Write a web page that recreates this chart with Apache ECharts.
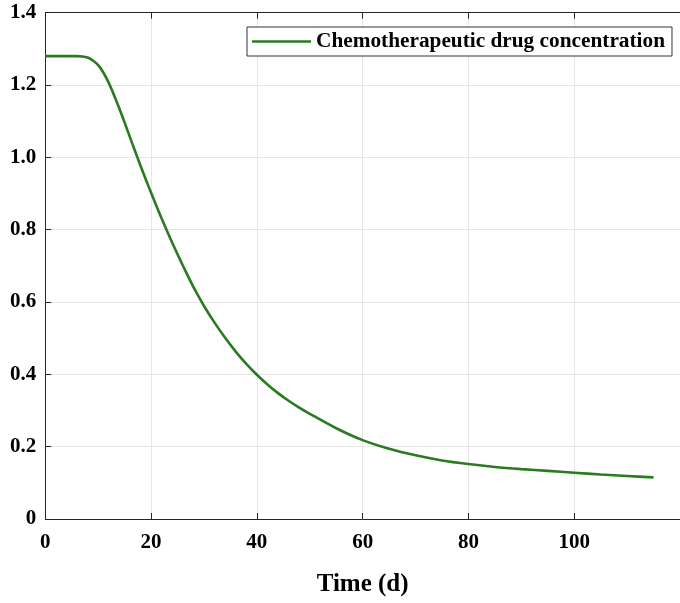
<!DOCTYPE html>
<html>
<head>
<meta charset="utf-8">
<script src="https://cdn.jsdelivr.net/npm/echarts@6/dist/echarts.min.js"></script>
<style>
  html, body { margin: 0; padding: 0; background: #ffffff; }
  #chart { width: 680px; height: 603px; }
</style>
</head>
<body>
<div id="chart"></div>
<script>
// Time axis (days) and drug concentration sampled along the curve
const days = [0, 2, 4, 5, 6, 7, 8, 9, 10, 11, 12, 13, 14, 15, 16, 17, 18, 19, 20,
  21, 22, 23, 24, 25, 26, 27, 28, 29, 30, 32, 34, 36, 38, 40, 42, 44, 46, 48, 50,
  55, 60, 65, 70, 75, 80, 85, 90, 95, 100, 105, 110, 115];
const concentration = [1.280, 1.280, 1.280, 1.280, 1.280, 1.279, 1.276, 1.268, 1.255,
  1.234, 1.206, 1.172, 1.135, 1.096, 1.056, 1.016, 0.977, 0.939, 0.902,
  0.866, 0.831, 0.797, 0.764, 0.732, 0.701, 0.671, 0.642, 0.615, 0.589,
  0.543, 0.501, 0.463, 0.429, 0.399, 0.372, 0.348, 0.327, 0.308, 0.291,
  0.251, 0.218, 0.194, 0.176, 0.162, 0.152, 0.144, 0.138, 0.133, 0.128,
  0.123, 0.119, 0.115];

const seriesName = 'Chemotherapeutic drug concentration';
const xLabel = 'Time (d)';
const xTicks = { min: 0, max: 120, interval: 20 };
const yTicks = { min: 0, max: 1.4, interval: 0.2 };

const font = '"Liberation Serif", "Times New Roman", serif';
const axisColor = '#262626';
const gridColor = '#e6e6e6';
const lineColor = '#2a7b20';

const chart = echarts.init(document.getElementById('chart'), null, { renderer: 'canvas' });

const axisBase = {
  type: 'value',
  min: xTicks.min,
  max: xTicks.max,
  interval: xTicks.interval,
  axisLine: { show: true, onZero: false, lineStyle: { color: axisColor, width: 1 } },
  axisTick: { show: true, inside: true, length: 6, lineStyle: { color: axisColor, width: 1 } }
};

chart.setOption({
  backgroundColor: '#ffffff',
  animation: false,
  grid: { left: 45.3, right: -7.3, top: 12.7, bottom: 84 },
  legend: {
    data: [{ name: seriesName, icon: 'rect' }],
    left: 247,
    top: 27,
    itemWidth: 59,
    itemHeight: 2.6,
    itemGap: 6,
    padding: [4, 7, 4, 5],
    borderColor: '#333333',
    borderWidth: 1,
    backgroundColor: '#ffffff',
    textStyle: { fontFamily: font, fontWeight: 'bold', fontSize: 21.3, color: '#000000' }
  },
  xAxis: [
    Object.assign({}, axisBase, {
      position: 'bottom',
      name: xLabel,
      nameLocation: 'middle',
      nameGap: 53,
      nameTextStyle: { fontFamily: font, fontWeight: 'bold', fontSize: 25, color: '#000000' },
      axisLabel: { margin: 13, fontFamily: font, fontWeight: 'bold', fontSize: 21, color: '#000000', showMaxLabel: false },
      splitLine: { show: true, lineStyle: { color: gridColor, width: 1 } }
    }),
    Object.assign({}, axisBase, {
      position: 'top',
      axisLabel: { show: false },
      splitLine: { show: false }
    })
  ],
  yAxis: {
    type: 'value',
    min: yTicks.min,
    max: yTicks.max,
    interval: yTicks.interval,
    axisLine: { show: true, lineStyle: { color: axisColor, width: 1 } },
    axisTick: { show: true, inside: true, length: 6, lineStyle: { color: axisColor, width: 1 } },
    axisLabel: {
      margin: 9,
      fontFamily: font, fontWeight: 'bold', fontSize: 21, color: '#000000',
      formatter: v => (v === 0 ? '0' : v.toFixed(1))
    },
    splitLine: { show: true, lineStyle: { color: gridColor, width: 1 } }
  },
  series: [{
    name: seriesName,
    type: 'line',
    xAxisIndex: 0,
    data: days.map((d, i) => [d, concentration[i]]),
    showSymbol: false,
    smooth: 0.3,
    lineStyle: { color: lineColor, width: 2.6 },
    itemStyle: { color: lineColor }
  }]
});
</script>
</body>
</html>
